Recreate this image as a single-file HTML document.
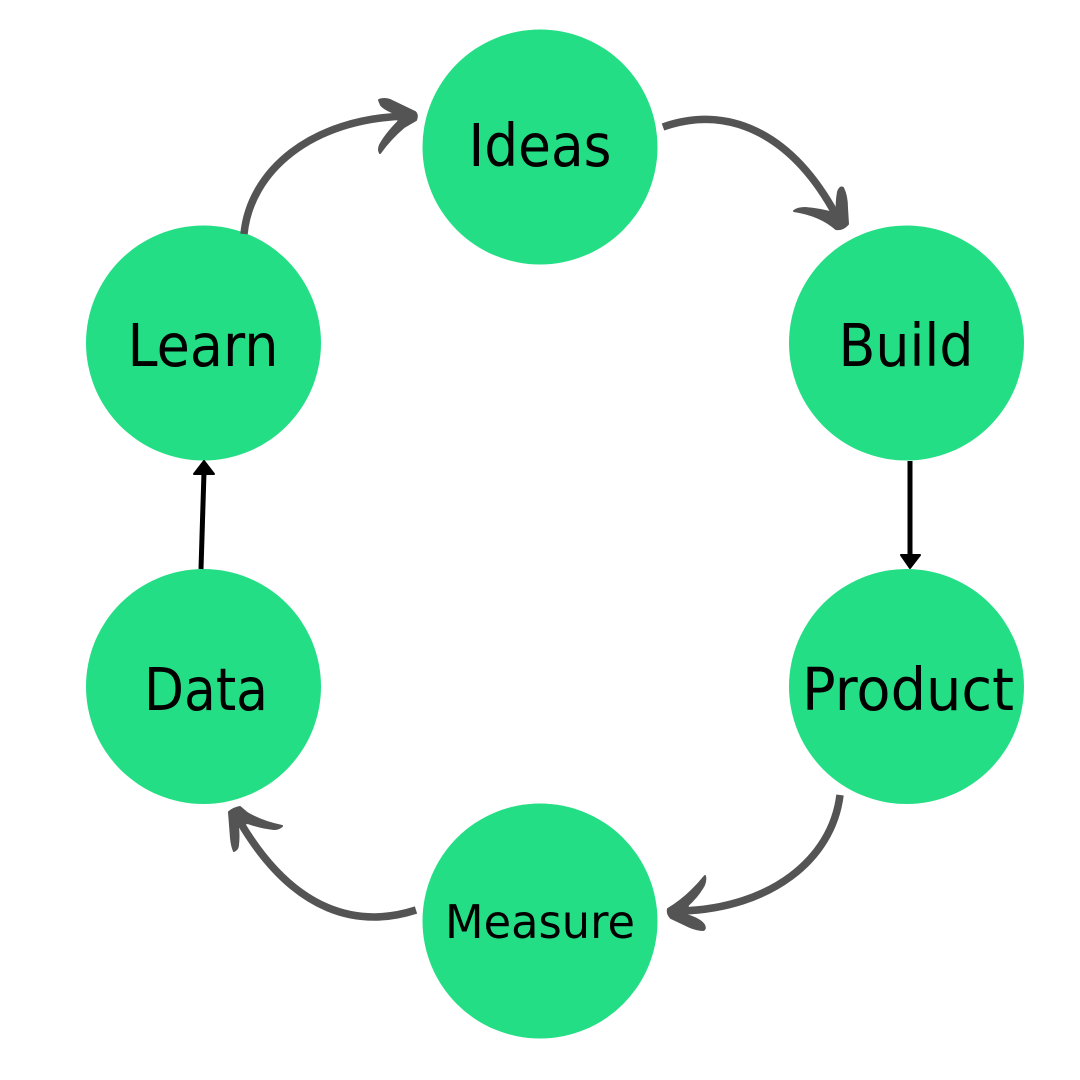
<!DOCTYPE html>
<html>
<head>
<meta charset="utf-8">
<style>
html,body{margin:0;padding:0;background:#fff;}
svg{display:block;}
text{font-family:"DejaVu Sans",sans-serif;fill:#000;}
</style>
</head>
<body>
<svg xmlns="http://www.w3.org/2000/svg" width="1080" height="1080" viewBox="0 0 1080 1080">
<rect width="1080" height="1080" fill="#fff"/>
<g fill="#24de85">
<circle cx="540" cy="147" r="117.5"/>
<circle cx="906.5" cy="343" r="117.5"/>
<circle cx="906.5" cy="686.5" r="117.5"/>
<circle cx="540" cy="921" r="117.5"/>
<circle cx="203.5" cy="686.5" r="117.5"/>
<circle cx="203.5" cy="343" r="117.5"/>
</g>
<g fill="none" stroke="#545454" stroke-width="7.5">
<path d="M244,234 C250,172 310,118 408,116"/>
<path d="M663,127 C725,105 790,130 836,215" />
<path d="M840,795 C832,860 770,908 682,911"/>
<path d="M416,910 C360,928 295,915 240,822"/>
</g>
<g fill="#545454" stroke="#545454" stroke-width="2" stroke-linejoin="round">
<path d="M379,100 Q384,98 390,100 L415,112 Q418,115 416,120 L404,127 Q390,139 380,153 Q378,150 380,145 Q386,134 398,122 L400,115 Q385,110 381,105 Z"/>
<path d="M794,211 Q798,208 805,208 Q820,209 837,214 Q836,203 838,192 Q840,186 843,188 Q847,196 847,208 L848,224 Q843,230 836,229 Q820,215 794,211 Z"/>
<path d="M705,876 Q706,880 704,885 Q698,896 688,905 L686,915 Q700,919 704,925 Q706,929 703,930 Q697,930 690,927 L671,918 Q667,914 668,909 Q688,897 705,876 Z"/>
<path d="M240,807 Q234,808 229,812 L231,838 Q232,847 234,851 Q238,849 238,845 Q239,836 238,827 Q245,823 248,823 Q262,828 274,829 Q279,829 282,826 Q262,822 247,813 Z"/>
</g>
<g stroke="#000" stroke-width="5" fill="#000">
<line x1="201" y1="569" x2="204" y2="472"/>
<line x1="910" y1="461" x2="910" y2="558"/>
</g>
<g fill="#000" stroke="#000" stroke-width="2" stroke-linejoin="round">
<path d="M204,461 L214,474 L194,474 Z"/>
<path d="M910,568 L901,555 L920,555 Z"/>
</g>
<text x="540" y="166" font-size="59" text-anchor="middle" textLength="143" lengthAdjust="spacingAndGlyphs">Ideas</text>
<text x="906" y="366" font-size="59" text-anchor="middle" textLength="135" lengthAdjust="spacingAndGlyphs">Build</text>
<text x="908" y="710" font-size="59" text-anchor="middle" textLength="212" lengthAdjust="spacingAndGlyphs">Product</text>
<text x="540" y="938" font-size="46" text-anchor="middle" textLength="190" lengthAdjust="spacingAndGlyphs">Measure</text>
<text x="206" y="710" font-size="59" text-anchor="middle" textLength="124" lengthAdjust="spacingAndGlyphs">Data</text>
<text x="203" y="366" font-size="59" text-anchor="middle" textLength="151" lengthAdjust="spacingAndGlyphs">Learn</text>
</svg>
</body>
</html>
